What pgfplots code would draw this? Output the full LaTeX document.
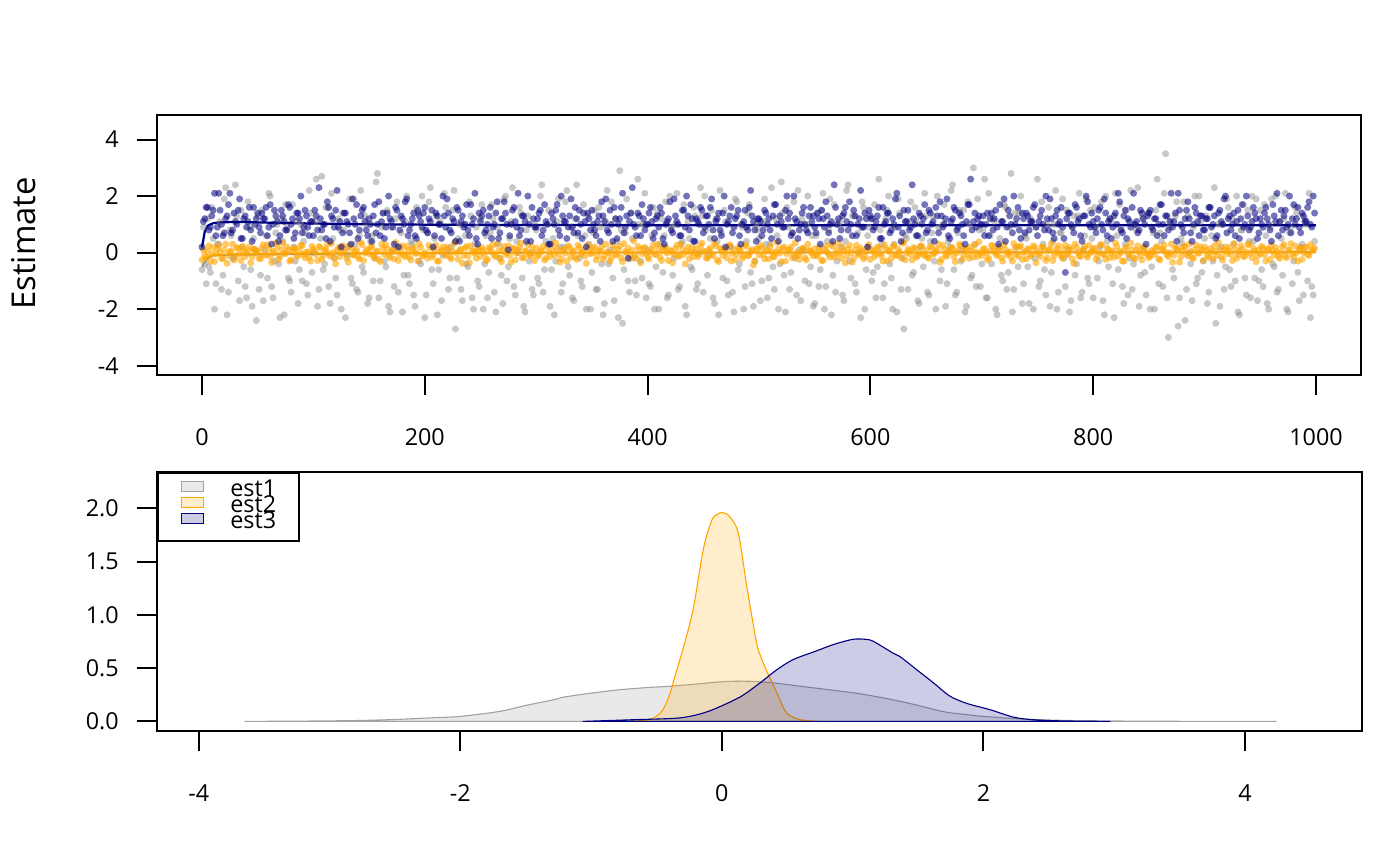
\documentclass[border=0pt]{standalone}
\usepackage{pgfplots}
\pgfplotsset{compat=1.18}
\usepackage{fontspec}
\setmainfont{Open Sans}
\definecolor{g1}{HTML}{919191}
\definecolor{orng}{HTML}{FFA500}
\definecolor{nav}{HTML}{000080}
\pgfplotsset{
  rstyle/.style={
    scale only axis,
    axis line style={black, line width=0.7pt},
    tick style={black, line width=0.7pt},
    major tick length=7.2pt,
    tick align=outside,
    xtick pos=lower, ytick pos=left,
    /pgf/number format/assume math mode=true,
    /pgf/number format/set thousands separator={},
    ticklabel style={font=\fontsize{8.4}{10}\selectfont, inner sep=0pt},
    xticklabel style={anchor=center, yshift=-15.1pt},
    yticklabel style={anchor=east, xshift=-6.4pt},
  },
  gpts/.style={only marks, mark=*, mark size=1.26pt, mark options={g1, draw opacity=0, fill opacity=0.5}},
  opts/.style={only marks, mark=*, mark size=1.26pt, mark options={orng, draw opacity=0, fill opacity=0.6}},
  npts/.style={only marks, mark=*, mark size=1.26pt, mark options={nav, draw opacity=0, fill opacity=0.55}},
}
\begin{document}
\begin{tikzpicture}
\path[use as bounding box] (0,0) rectangle (504pt,311.76pt);
% ---------------- top panel ----------------
\begin{axis}[rstyle,
  at={(56.52pt,176.76pt)}, anchor=south west,
  width=433.44pt, height=93.6pt,
  xmin=-40.4, xmax=1040.4, ymin=-4.33, ymax=4.87,
  xtick={0,200,400,600,800,1000},
  ytick={-4,-2,0,2,4},
  ylabel={Estimate},
  ylabel style={at={(axis description cs:-0.111,0.506)}, anchor=center, font=\fontsize{11.8}{13}\selectfont},
]
% est1 (gray points)
\addplot[gpts] table[header=false, row sep=\\, x expr=\coordindex*2.5, y index=0] {
-0.6\\-0.4\\1.2\\-0.7\\0.5\\-1.1\\0.3\\-1.3\\1.9\\-2.2\\0.8\\-0.2\\2.4\\-1.0\\1.5\\-0.5\\-1.6\\0.9\\-1.9\\0.1\\
1.3\\-0.8\\-1.7\\0.6\\2.1\\-1.2\\-0.3\\1.0\\-2.3\\0.4\\1.7\\-0.9\\-1.4\\0.2\\1.1\\-0.6\\-1.0\\0.7\\-1.5\\1.4\\
0.0\\2.6\\-1.3\\2.7\\-0.4\\1.6\\-1.8\\0.5\\-0.9\\1.2\\-2.0\\0.8\\-0.1\\1.9\\-1.1\\0.3\\-1.4\\2.2\\-0.7\\1.0\\
-1.6\\0.6\\-0.2\\2.8\\-1.0\\1.4\\-0.5\\-1.9\\0.9\\-1.2\\1.8\\0.2\\-2.1\\1.1\\-0.8\\0.4\\-1.5\\1.6\\-0.3\\2.0\\
-2.3\\0.7\\2.3\\-1.1\\1.3\\-0.6\\-1.7\\2.1\\0.1\\-0.9\\1.5\\-2.7\\0.5\\-1.3\\1.0\\-0.4\\1.8\\-1.6\\0.3\\-1.0\\
1.2\\-2.0\\0.6\\-0.7\\1.7\\-1.4\\0.9\\-0.2\\-1.8\\2.0\\-0.5\\1.1\\-1.2\\0.4\\1.6\\-0.9\\-2.1\\1.3\\0.0\\-1.5\\
0.8\\-1.1\\2.4\\-0.6\\1.0\\-1.9\\0.5\\-0.3\\1.9\\-1.4\\0.2\\2.2\\-0.8\\-1.6\\1.2\\0.6\\-1.0\\1.7\\-2.0\\0.3\\
-0.7\\1.5\\-1.3\\0.9\\-2.2\\1.1\\-0.4\\1.8\\-1.7\\0.4\\2.9\\-2.5\\0.7\\-1.0\\1.4\\-0.2\\-1.5\\1.0\\-0.9\\2.1\\
0.1\\-1.2\\1.6\\-0.5\\-2.0\\1.2\\0.6\\-1.6\\2.0\\-0.8\\1.0\\-1.3\\0.3\\1.7\\-2.2\\0.5\\-0.6\\1.3\\-1.1\\2.3\\
-1.4\\0.8\\-0.1\\1.5\\-1.8\\0.4\\2.2\\-0.9\\1.1\\-1.5\\0.2\\-2.1\\1.8\\-0.4\\0.9\\-1.2\\1.4\\-0.7\\-1.9\\1.0\\
0.5\\-1.0\\1.9\\-1.6\\0.3\\-0.5\\1.2\\-2.0\\2.5\\-0.8\\1.6\\-1.3\\0.7\\-0.2\\2.2\\-1.7\\0.1\\1.0\\-1.1\\0.6\\
-1.8\\1.4\\-0.6\\2.1\\-1.2\\0.8\\-2.2\\1.7\\-0.3\\1.1\\-1.5\\0.4\\2.4\\-0.9\\1.3\\-1.4\\0.0\\1.8\\-2.0\\0.6\\
1.2\\-0.7\\-1.6\\2.6\\0.3\\-1.1\\1.5\\-0.4\\-2.0\\0.9\\1.9\\-1.3\\-2.7\\0.5\\1.1\\-0.8\\1.6\\-1.7\\0.2\\-0.5\\
1.3\\-1.5\\0.7\\-0.3\\2.0\\-1.0\\1.0\\-1.9\\0.4\\2.2\\-0.6\\-1.4\\1.5\\0.1\\-2.1\\1.8\\-0.9\\3.0\\-1.2\\0.8\\
-0.4\\2.6\\-1.6\\0.6\\1.2\\-2.0\\0.2\\-0.8\\1.7\\-1.3\\0.9\\-2.1\\1.4\\-0.5\\2.0\\-1.1\\0.5\\-1.8\\1.1\\-0.2\\
2.6\\-1.0\\0.3\\-1.5\\1.6\\-0.7\\1.0\\-2.0\\0.7\\1.9\\-1.2\\0.1\\-1.7\\1.3\\-0.4\\2.1\\-1.4\\0.6\\-0.9\\1.5\\
-1.6\\0.9\\-0.3\\1.8\\-2.2\\0.4\\1.2\\-1.1\\2.1\\-0.6\\0.8\\-1.8\\1.5\\-0.2\\-1.3\\1.0\\2.3\\-0.8\\0.2\\-1.5\\
1.4\\-0.5\\-2.0\\2.6\\0.7\\-1.2\\3.5\\-3.0\\1.1\\-0.9\\1.8\\-1.6\\0.3\\-2.4\\1.3\\-0.4\\0.9\\-1.1\\2.0\\-0.7\\
0.5\\-1.8\\1.6\\-0.3\\-2.5\\1.0\\0.2\\-1.3\\1.9\\-0.6\\1.2\\-1.0\\-2.1\\0.8\\1.7\\-1.5\\0.4\\2.0\\-0.9\\-1.7\\
1.5\\-1.2\\0.6\\-2.0\\1.9\\-0.5\\-1.4\\1.1\\-0.8\\2.1\\-2.1\\0.9\\-0.3\\1.4\\-1.7\\0.3\\1.2\\-1.0\\-2.3\\-1.5\\
};
\addplot[gpts] table[header=false, row sep=\\, x expr=1.25+\coordindex*2.5, y index=0] {
0.9\\-1.1\\-0.5\\1.6\\-2.0\\0.3\\1.1\\-0.8\\2.3\\-1.4\\0.6\\-0.2\\1.3\\-1.7\\0.2\\-1.2\\1.8\\-0.6\\0.5\\-2.4\\
-1.3\\1.5\\0.1\\-0.9\\2.0\\-1.6\\0.7\\-0.4\\1.2\\-2.2\\0.9\\-1.0\\1.7\\-0.3\\-1.8\\1.0\\0.4\\-1.1\\2.2\\-0.7\\
1.1\\-1.9\\0.5\\-0.6\\1.6\\-1.2\\2.1\\-0.2\\-1.5\\0.8\\1.4\\-2.3\\0.2\\-0.9\\1.9\\-1.3\\0.6\\-0.5\\1.3\\-1.8\\
0.4\\-1.0\\2.5\\-1.6\\0.9\\-0.3\\1.5\\-2.1\\0.1\\1.2\\-1.4\\0.7\\-0.8\\2.0\\-1.1\\0.3\\-1.9\\1.4\\-0.4\\0.8\\
-1.5\\1.8\\-0.6\\0.5\\-2.2\\1.1\\-0.1\\1.6\\-1.3\\0.2\\2.2\\-0.9\\1.0\\-1.7\\0.6\\-0.5\\1.3\\-2.0\\0.9\\-1.2\\
1.7\\-0.4\\-1.6\\0.7\\1.2\\-2.1\\0.3\\-0.8\\1.9\\-1.0\\0.5\\2.3\\-1.5\\0.0\\1.4\\-1.9\\0.8\\-0.3\\-1.3\\1.0\\
-0.9\\2.0\\-1.4\\0.4\\1.5\\-0.6\\-2.2\\1.1\\0.2\\-1.1\\1.8\\-0.5\\0.9\\-1.7\\2.4\\-0.2\\-1.2\\0.6\\1.3\\-2.0\\
0.7\\-1.3\\1.6\\-0.4\\-1.8\\2.2\\0.1\\-0.9\\1.2\\-2.3\\0.8\\-0.6\\1.9\\-1.4\\0.5\\-1.0\\2.6\\-0.3\\1.0\\-1.6\\
-1.1\\0.6\\-2.0\\1.4\\0.3\\-0.7\\1.8\\-1.5\\0.9\\-0.2\\2.1\\-1.2\\0.4\\-1.9\\1.1\\-0.5\\1.6\\-1.3\\0.0\\1.3\\
2.0\\-0.8\\0.5\\-1.6\\1.2\\-2.2\\0.7\\1.5\\-1.0\\0.2\\-1.4\\1.9\\-0.6\\1.0\\-2.0\\0.4\\1.7\\-1.1\\-0.3\\0.8\\
-1.7\\1.1\\0.3\\-0.9\\2.3\\-1.3\\0.6\\-0.4\\1.4\\-2.1\\0.9\\-0.7\\1.8\\-1.5\\0.1\\1.2\\-1.0\\2.0\\-0.5\\-1.9\\
0.6\\-1.2\\1.5\\-2.0\\0.4\\1.9\\-0.8\\-1.4\\1.0\\0.2\\-1.7\\2.2\\-0.3\\1.3\\-1.1\\0.7\\-2.3\\1.6\\-0.6\\0.9\\
-1.0\\1.7\\-0.5\\0.8\\-1.6\\1.2\\2.0\\-0.9\\0.3\\-2.1\\1.4\\-0.2\\0.6\\-1.3\\1.8\\-0.7\\1.1\\-1.8\\0.5\\2.1\\
-1.4\\0.4\\1.3\\-2.0\\0.9\\-0.6\\1.7\\-1.1\\0.2\\2.4\\-1.5\\0.7\\-0.3\\1.5\\-1.9\\1.0\\-0.8\\0.3\\1.9\\-1.2\\
0.8\\-1.6\\2.1\\-0.4\\1.1\\-2.2\\0.5\\-1.0\\1.6\\-0.7\\2.8\\-1.3\\0.2\\1.4\\-1.8\\0.6\\-0.5\\1.2\\-2.0\\0.9\\
-1.2\\1.8\\-0.6\\1.0\\-1.9\\0.4\\2.2\\-1.4\\0.7\\-0.2\\1.5\\-2.1\\0.9\\-0.8\\1.3\\-1.6\\0.1\\1.9\\-1.1\\0.5\\
1.6\\-0.9\\0.2\\-1.7\\2.0\\-0.5\\1.1\\-2.3\\0.6\\1.7\\-1.2\\0.3\\-1.5\\2.2\\-0.4\\0.8\\-1.9\\1.2\\-0.7\\1.4\\
-2.0\\0.7\\1.5\\-1.1\\0.4\\2.1\\-1.6\\0.9\\-0.6\\1.3\\-2.6\\0.5\\1.8\\-1.3\\0.0\\-1.7\\2.0\\-0.9\\1.1\\-0.3\\
1.3\\-1.4\\0.6\\2.3\\-0.8\\-1.9\\1.0\\-0.5\\1.6\\-1.2\\0.3\\2.0\\-2.2\\0.8\\-0.9\\1.5\\-1.6\\0.4\\1.9\\-1.0\\
-0.6\\1.7\\-1.8\\0.9\\-0.4\\2.0\\-1.3\\0.5\\1.2\\-2.0\\0.7\\-1.1\\1.6\\-0.7\\0.2\\-1.5\\1.0\\2.1\\-1.2\\0.4\\
};
% est2 (orange points)
\addplot[opts] table[header=false, row sep=\\, x expr=\coordindex*2.5, y index=0] {
-0.25\\-0.10\\0.05\\-0.30\\0.18\\-0.05\\0.25\\-0.20\\0.10\\-0.38\\0.02\\0.30\\-0.12\\0.15\\-0.28\\0.08\\-0.02\\0.22\\-0.15\\0.12\\
0.05\\-0.22\\0.28\\-0.08\\0.14\\-0.35\\0.00\\0.20\\-0.14\\0.34\\-0.04\\0.10\\-0.26\\0.16\\-0.10\\0.06\\0.25\\-0.18\\0.02\\-0.30\\
0.12\\-0.06\\0.22\\-0.24\\0.08\\0.30\\-0.12\\0.00\\-0.40\\0.18\\-0.02\\0.14\\-0.20\\0.26\\-0.08\\0.04\\-0.16\\0.36\\-0.28\\0.10\\
-0.04\\0.20\\-0.18\\0.06\\-0.32\\0.15\\0.28\\-0.10\\0.02\\-0.22\\0.12\\-0.06\\0.24\\-0.14\\0.08\\-0.26\\0.18\\-0.02\\0.32\\-0.12\\
0.00\\-0.20\\0.16\\-0.08\\0.26\\-0.30\\0.10\\-0.04\\0.20\\-0.16\\0.04\\0.38\\-0.24\\0.12\\-0.10\\0.22\\-0.36\\0.06\\-0.02\\0.14\\
-0.14\\0.08\\-0.28\\0.18\\0.02\\-0.10\\0.30\\-0.20\\0.10\\-0.06\\0.24\\-0.34\\0.14\\-0.02\\0.20\\-0.18\\0.06\\0.28\\-0.12\\0.00\\
0.16\\-0.08\\0.04\\-0.26\\0.22\\-0.14\\0.10\\0.34\\-0.04\\-0.22\\0.12\\-0.30\\0.18\\0.02\\-0.16\\0.26\\-0.06\\0.08\\-0.38\\0.14\\
-0.02\\0.20\\-0.12\\0.06\\-0.24\\0.30\\0.00\\-0.18\\0.12\\-0.08\\0.24\\-0.32\\0.04\\0.16\\-0.10\\0.42\\-0.20\\0.10\\-0.04\\0.18\\
-0.16\\0.02\\0.26\\-0.08\\0.12\\-0.28\\0.20\\-0.02\\0.08\\-0.36\\0.14\\-0.12\\0.30\\-0.06\\0.04\\-0.22\\0.18\\0.00\\-0.14\\0.24\\
0.06\\-0.18\\0.10\\-0.04\\0.32\\-0.26\\0.16\\-0.10\\0.02\\0.22\\-0.30\\0.08\\-0.06\\0.14\\-0.20\\0.28\\-0.12\\0.04\\-0.44\\0.12\\
-0.08\\0.18\\-0.22\\0.06\\0.24\\-0.14\\0.00\\0.12\\-0.32\\0.20\\-0.04\\0.10\\-0.18\\0.34\\-0.10\\0.02\\0.16\\-0.26\\0.08\\-0.02\\
0.14\\-0.12\\0.04\\-0.28\\0.22\\-0.06\\0.30\\-0.16\\0.08\\-0.02\\0.18\\-0.36\\0.12\\0.00\\-0.20\\0.26\\-0.08\\0.06\\-0.14\\0.20\\
-0.24\\0.10\\-0.04\\0.16\\-0.12\\0.28\\-0.30\\0.02\\0.20\\-0.08\\0.12\\-0.18\\0.36\\-0.02\\0.06\\-0.26\\0.14\\-0.10\\0.24\\-0.06\\
0.08\\-0.20\\0.18\\-0.02\\0.12\\-0.34\\0.26\\-0.10\\0.04\\0.16\\-0.14\\0.00\\0.30\\-0.24\\0.10\\-0.06\\0.20\\-0.16\\0.02\\0.38\\
-0.10\\0.14\\-0.26\\0.06\\0.22\\-0.04\\0.10\\-0.18\\0.28\\-0.08\\0.02\\-0.30\\0.16\\-0.12\\0.24\\0.00\\-0.22\\0.12\\-0.06\\0.18\\
0.04\\-0.14\\0.20\\-0.28\\0.08\\0.32\\-0.10\\0.14\\-0.02\\-0.20\\0.26\\-0.06\\0.10\\-0.38\\0.18\\-0.12\\0.06\\0.22\\-0.16\\0.00\\
0.12\\-0.24\\0.02\\0.28\\-0.08\\0.16\\-0.18\\0.06\\0.34\\-0.12\\0.00\\-0.30\\0.20\\-0.04\\0.10\\-0.22\\0.24\\-0.10\\0.14\\-0.02\\
-0.18\\0.08\\-0.06\\0.22\\-0.26\\0.12\\0.02\\-0.14\\0.30\\-0.08\\0.16\\-0.34\\0.06\\0.20\\-0.12\\0.04\\-0.20\\0.26\\-0.02\\0.10\\
0.20\\-0.10\\0.14\\-0.22\\0.04\\0.36\\-0.16\\0.08\\-0.04\\0.18\\-0.28\\0.10\\-0.08\\0.24\\-0.14\\0.02\\0.30\\-0.18\\0.06\\-0.12\\
-0.04\\0.16\\-0.30\\0.10\\0.26\\-0.08\\0.04\\-0.20\\0.22\\-0.12\\0.08\\0.32\\-0.16\\0.00\\0.14\\-0.24\\0.18\\-0.06\\0.28\\0.10\\
};
\addplot[opts] table[header=false, row sep=\\, x expr=1.25+\coordindex*2.5, y index=0] {
0.10\\-0.18\\0.24\\-0.06\\-0.32\\0.14\\0.02\\-0.22\\0.30\\-0.10\\0.06\\-0.26\\0.18\\-0.04\\0.22\\-0.14\\0.08\\-0.36\\0.12\\0.00\\
-0.20\\0.16\\-0.08\\0.28\\-0.14\\0.04\\0.34\\-0.24\\0.10\\-0.02\\0.20\\-0.30\\0.06\\0.14\\-0.12\\0.26\\-0.06\\0.02\\-0.18\\0.22\\
0.04\\-0.28\\0.18\\-0.10\\0.12\\-0.04\\0.32\\-0.20\\0.08\\-0.14\\0.24\\0.00\\-0.34\\0.16\\-0.08\\0.10\\-0.22\\0.28\\-0.02\\0.06\\
0.20\\-0.12\\0.02\\-0.24\\0.30\\-0.06\\0.14\\-0.18\\0.08\\0.36\\-0.28\\0.04\\-0.10\\0.22\\-0.16\\0.12\\-0.02\\-0.30\\0.18\\-0.08\\
-0.06\\0.26\\-0.16\\0.10\\-0.30\\0.04\\0.20\\-0.10\\0.14\\-0.22\\0.32\\-0.02\\0.08\\-0.38\\0.16\\-0.12\\0.24\\0.02\\-0.20\\0.10\\
0.18\\-0.04\\-0.24\\0.12\\0.28\\-0.14\\0.06\\-0.32\\0.22\\0.00\\-0.10\\0.16\\-0.26\\0.08\\0.34\\-0.18\\0.04\\-0.06\\0.20\\-0.28\\
-0.12\\0.08\\0.22\\-0.20\\0.02\\0.30\\-0.08\\0.14\\-0.34\\0.10\\-0.02\\0.24\\-0.16\\0.06\\-0.24\\0.18\\0.00\\-0.12\\0.28\\-0.04\\
0.14\\-0.26\\0.06\\0.20\\-0.12\\0.02\\-0.30\\0.26\\-0.06\\0.12\\-0.18\\0.32\\0.00\\-0.22\\0.08\\-0.10\\0.22\\-0.36\\0.16\\-0.02\\
-0.22\\0.12\\-0.04\\0.30\\-0.16\\0.08\\0.18\\-0.28\\0.04\\-0.08\\0.26\\-0.12\\0.10\\-0.40\\0.20\\0.00\\-0.14\\0.14\\-0.06\\0.34\\
0.02\\-0.20\\0.16\\-0.10\\0.24\\-0.32\\0.08\\0.12\\-0.18\\0.28\\-0.04\\-0.26\\0.18\\0.04\\-0.12\\0.22\\-0.08\\0.10\\-0.30\\0.14\\
0.26\\-0.06\\0.10\\-0.22\\0.04\\-0.14\\0.36\\-0.02\\0.16\\-0.30\\0.08\\0.20\\-0.10\\0.00\\-0.24\\0.14\\-0.18\\0.30\\0.06\\-0.12\\
-0.08\\0.18\\-0.28\\0.12\\0.02\\-0.16\\0.22\\-0.04\\0.32\\-0.20\\0.06\\-0.12\\0.26\\-0.34\\0.10\\-0.02\\0.16\\-0.22\\0.04\\0.28\\
0.06\\-0.14\\0.20\\-0.02\\-0.30\\0.14\\0.08\\-0.20\\0.26\\-0.10\\0.02\\0.34\\-0.26\\0.12\\-0.06\\0.18\\-0.16\\0.00\\0.22\\-0.10\\
-0.16\\0.22\\-0.06\\0.04\\0.30\\-0.24\\0.12\\-0.12\\0.02\\0.18\\-0.32\\0.08\\0.24\\-0.08\\0.14\\-0.20\\0.06\\0.28\\-0.14\\0.00\\
0.12\\-0.02\\-0.20\\0.26\\0.06\\-0.10\\0.18\\-0.30\\0.10\\0.00\\-0.16\\0.32\\-0.06\\0.20\\-0.24\\0.04\\0.14\\-0.12\\0.24\\-0.36\\
-0.04\\0.20\\0.08\\-0.18\\0.14\\-0.28\\0.02\\0.24\\-0.12\\0.10\\-0.06\\0.18\\-0.22\\0.30\\0.00\\-0.14\\0.12\\-0.08\\0.26\\0.04\\
0.16\\-0.10\\0.28\\-0.04\\-0.24\\0.10\\0.00\\-0.16\\0.22\\0.06\\-0.30\\0.14\\-0.08\\0.34\\-0.18\\0.08\\0.02\\-0.26\\0.18\\-0.06\\
-0.12\\0.04\\0.18\\-0.22\\0.12\\0.26\\-0.08\\0.00\\-0.34\\0.16\\0.08\\-0.14\\0.22\\-0.04\\0.30\\-0.18\\0.10\\-0.02\\0.20\\-0.28\\
0.08\\-0.16\\0.02\\0.24\\-0.10\\0.14\\-0.26\\0.20\\0.06\\-0.06\\0.32\\-0.20\\0.04\\0.12\\-0.12\\0.28\\-0.02\\0.16\\-0.32\\0.10\\
0.22\\-0.08\\0.12\\-0.24\\0.06\\0.18\\-0.14\\0.02\\0.28\\-0.18\\0.10\\-0.04\\0.24\\-0.30\\0.14\\0.00\\0.20\\-0.10\\0.08\\0.16\\
};
% est3 (navy points)
\addplot[npts] table[header=false, row sep=\\, x expr=\coordindex*2.5, y index=0] {
0.2\\1.2\\1.6\\0.9\\1.5\\0.6\\2.1\\1.0\\0.7\\1.3\\2.1\\0.8\\1.1\\1.5\\0.5\\1.2\\0.9\\1.6\\0.4\\1.0\\
1.4\\0.7\\1.2\\1.6\\0.9\\0.3\\1.5\\1.1\\0.6\\1.3\\0.8\\1.7\\1.0\\0.5\\1.4\\1.2\\0.7\\1.5\\0.9\\1.1\\
0.6\\1.3\\2.3\\0.8\\1.0\\1.8\\0.4\\1.2\\1.5\\0.9\\0.2\\1.4\\1.1\\0.7\\1.9\\1.0\\0.5\\1.3\\1.6\\0.8\\
1.2\\0.4\\1.7\\1.0\\0.6\\1.4\\0.9\\2.0\\1.1\\0.3\\1.5\\0.8\\1.2\\1.8\\0.6\\1.0\\1.4\\0.5\\1.3\\0.9\\
1.6\\0.7\\1.1\\0.2\\1.4\\1.0\\0.5\\1.3\\1.9\\0.8\\1.2\\0.4\\1.5\\1.1\\0.9\\1.7\\0.6\\1.0\\2.1\\0.3\\
1.1\\1.5\\0.8\\1.3\\0.5\\1.0\\1.8\\0.7\\1.2\\1.4\\0.1\\1.0\\1.6\\0.9\\0.6\\1.3\\1.1\\2.0\\0.4\\1.2\\
0.9\\1.4\\0.6\\1.7\\1.0\\0.3\\1.2\\1.5\\0.8\\2.0\\1.1\\0.5\\1.3\\0.9\\1.6\\0.7\\1.0\\1.4\\0.2\\1.2\\
1.5\\0.8\\1.1\\0.4\\1.3\\1.9\\0.7\\1.0\\1.6\\0.5\\1.2\\2.1\\0.9\\-0.2\\1.4\\1.0\\0.6\\1.3\\1.7\\0.8\\
1.0\\1.6\\0.5\\1.2\\0.9\\1.4\\0.3\\1.1\\1.8\\0.7\\1.3\\1.0\\0.6\\1.5\\2.0\\0.8\\1.2\\0.4\\1.1\\1.6\\
0.7\\1.3\\1.0\\1.9\\0.5\\1.2\\0.8\\1.4\\0.2\\1.1\\1.6\\0.9\\1.3\\0.6\\1.0\\1.5\\0.8\\2.2\\1.1\\0.4\\
1.2\\0.6\\1.5\\1.0\\0.8\\1.3\\1.7\\0.4\\1.1\\0.9\\2.0\\1.4\\0.7\\1.2\\0.5\\1.0\\1.6\\0.8\\1.3\\1.1\\
0.9\\1.4\\0.3\\1.2\\1.8\\0.7\\1.1\\2.4\\1.0\\0.5\\1.3\\1.6\\0.8\\1.0\\1.5\\0.6\\1.2\\0.9\\1.4\\0.2\\
1.3\\0.8\\1.1\\1.6\\0.5\\1.0\\1.4\\0.7\\1.2\\1.9\\0.9\\0.4\\1.5\\1.1\\0.8\\2.4\\1.0\\0.6\\1.3\\1.2\\
0.7\\1.5\\1.0\\0.4\\1.3\\1.8\\0.9\\1.2\\0.6\\1.1\\1.6\\0.8\\1.4\\1.0\\0.3\\1.7\\2.6\\1.1\\0.9\\1.3\\
1.0\\0.6\\1.4\\1.2\\0.8\\1.5\\0.3\\1.1\\1.9\\0.9\\1.3\\0.7\\1.0\\1.6\\0.5\\1.2\\1.4\\0.8\\1.1\\1.7\\
0.6\\1.3\\1.0\\2.0\\0.8\\1.2\\0.5\\1.5\\1.1\\0.9\\-0.7\\1.4\\1.0\\0.7\\1.6\\1.2\\0.4\\1.3\\1.8\\0.9\\
1.1\\0.7\\1.5\\1.0\\1.9\\0.6\\1.2\\0.9\\1.4\\2.1\\0.8\\1.3\\0.5\\1.1\\1.6\\1.0\\0.7\\1.5\\1.2\\0.3\\
1.4\\0.9\\1.2\\0.6\\1.7\\1.0\\1.3\\0.8\\2.1\\1.1\\0.4\\1.5\\0.9\\1.2\\1.8\\0.7\\1.0\\1.4\\0.6\\1.3\\
0.8\\1.2\\1.6\\1.0\\0.5\\1.4\\1.1\\1.9\\0.7\\1.3\\1.0\\0.6\\1.5\\1.2\\0.9\\2.0\\0.8\\1.1\\1.4\\0.5\\
1.2\\0.9\\1.6\\1.0\\0.4\\1.3\\2.1\\1.1\\0.8\\1.5\\1.0\\0.7\\1.7\\1.2\\0.9\\1.4\\1.1\\1.6\\1.0\\2.0\\
};
\addplot[npts] table[header=false, row sep=\\, x expr=1.25+\coordindex*2.5, y index=0] {
1.1\\1.6\\0.8\\1.3\\2.1\\0.9\\1.5\\0.6\\1.2\\1.7\\0.7\\1.4\\1.0\\1.9\\0.5\\1.3\\1.1\\0.8\\1.6\\1.2\\
0.9\\1.4\\1.2\\0.6\\1.7\\1.0\\1.3\\0.4\\1.5\\1.1\\0.8\\1.6\\1.2\\0.7\\1.4\\2.0\\0.9\\1.3\\0.6\\1.1\\
1.5\\0.8\\1.2\\1.0\\0.5\\1.6\\1.3\\0.9\\2.2\\1.1\\0.7\\1.4\\1.0\\0.3\\1.2\\1.7\\0.8\\1.5\\1.1\\0.6\\
1.0\\1.3\\0.7\\1.8\\1.1\\0.5\\1.4\\1.2\\0.9\\1.6\\0.2\\1.3\\1.0\\1.9\\0.8\\1.2\\0.6\\1.5\\1.1\\1.4\\
0.8\\1.2\\1.5\\0.6\\1.3\\1.0\\2.0\\0.9\\1.4\\0.7\\1.1\\1.6\\0.4\\1.3\\1.0\\0.8\\1.7\\1.2\\0.5\\1.4\\
1.3\\0.7\\1.0\\1.6\\0.9\\1.4\\0.5\\1.2\\1.8\\1.0\\0.6\\1.5\\1.1\\2.1\\0.8\\1.3\\0.4\\1.0\\1.6\\0.9\\
1.2\\1.5\\0.8\\1.1\\0.3\\1.4\\1.0\\1.7\\0.6\\1.3\\1.1\\0.9\\1.9\\0.7\\1.2\\1.5\\0.5\\1.1\\1.4\\0.8\\
1.0\\0.6\\1.3\\1.8\\1.1\\0.8\\1.5\\0.4\\1.2\\1.0\\1.6\\0.7\\1.3\\1.1\\2.3\\0.9\\1.4\\0.6\\1.2\\1.0\\
1.4\\1.1\\0.7\\1.3\\1.6\\0.5\\1.0\\1.2\\0.8\\1.9\\1.1\\0.6\\1.5\\0.9\\1.3\\1.7\\0.4\\1.2\\1.0\\1.5\\
0.9\\1.3\\1.6\\0.8\\1.1\\1.4\\0.6\\2.0\\1.0\\1.3\\0.7\\1.2\\1.5\\0.3\\1.1\\0.9\\1.6\\1.3\\0.8\\1.2\\
1.1\\0.8\\1.4\\1.2\\0.5\\1.7\\1.0\\1.3\\0.9\\1.5\\1.2\\0.6\\2.0\\1.1\\0.8\\1.4\\1.0\\0.7\\1.6\\1.3\\
0.7\\1.2\\1.5\\0.9\\1.3\\1.0\\0.4\\1.6\\1.2\\0.8\\1.4\\1.1\\1.8\\0.6\\1.3\\1.0\\2.2\\0.9\\1.2\\1.5\\
1.2\\0.9\\1.3\\0.5\\1.6\\1.1\\1.4\\0.8\\1.0\\2.1\\1.3\\0.7\\1.1\\1.5\\0.9\\1.2\\0.6\\1.4\\1.0\\1.7\\
0.8\\1.4\\1.1\\1.6\\0.7\\1.3\\1.0\\1.9\\0.5\\1.2\\1.5\\0.9\\1.3\\0.6\\1.1\\1.7\\0.8\\1.4\\1.2\\1.0\\
1.3\\1.0\\0.6\\1.4\\1.2\\0.9\\1.7\\1.1\\0.4\\1.5\\1.0\\2.0\\1.2\\0.8\\1.4\\0.7\\1.3\\1.1\\1.6\\0.9\\
1.1\\1.5\\0.8\\1.2\\1.9\\0.7\\1.3\\1.0\\1.6\\0.5\\1.2\\1.4\\0.9\\1.7\\1.1\\0.6\\1.3\\2.0\\1.0\\1.4\\
0.9\\1.2\\1.6\\0.8\\1.4\\1.1\\0.5\\1.3\\1.0\\1.8\\0.7\\1.5\\1.2\\0.9\\2.1\\1.1\\0.8\\1.4\\1.0\\1.3\\
1.5\\0.8\\1.2\\1.0\\1.7\\0.6\\1.3\\1.1\\0.9\\1.4\\2.1\\1.0\\0.7\\1.5\\1.2\\0.4\\1.6\\1.1\\1.3\\0.8\\
1.2\\1.6\\0.9\\1.3\\0.6\\1.5\\1.0\\2.0\\1.2\\0.8\\1.4\\1.1\\0.5\\1.7\\1.0\\1.3\\0.9\\1.6\\1.2\\0.7\\
1.0\\1.4\\1.2\\0.8\\1.7\\1.1\\0.6\\1.5\\1.3\\0.9\\2.0\\1.2\\1.0\\1.6\\0.7\\1.3\\1.1\\1.8\\0.9\\1.4\\
};
% running means
\addplot[g1, line width=0.6pt] coordinates {(0,-0.5) (5,-0.2) (10,-0.1) (30,-0.08) (100,-0.05) (300,0) (1000,0.02)};
\addplot[orng, line width=0.6pt] coordinates {(0,-0.25) (5,-0.15) (10,-0.08) (30,-0.05) (100,-0.02) (300,0) (1000,0)};
\addplot[nav, line width=0.8pt] coordinates {(0,0.18) (2.5,0.75) (5,0.95) (7.5,1.0) (10,1.04) (15,1.07) (25,1.08) (40,1.08) (60,1.06) (100,1.03) (150,1.0) (250,0.98) (400,0.97) (600,0.97) (800,0.97) (1000,0.97)};
\end{axis}
% ---------------- bottom panel ----------------
\begin{axis}[rstyle,
  at={(56.52pt,48.6pt)}, anchor=south west,
  width=433.8pt, height=93.24pt,
  xmin=-4.32, xmax=4.895, ymin=-0.09, ymax=2.34,
  xtick={-4,-2,0,2,4},
  ytick={0,0.5,1,1.5,2},
  yticklabel style={/pgf/number format/.cd, fixed, fixed zerofill, precision=1},
  legend style={at={(axis description cs:0,1)}, anchor=north west, draw=black, line width=0.6pt,
    inner xsep=8.3pt, inner ysep=2.9pt, row sep=-1.44pt, column sep=9.4pt,
    font=\fontsize{8.4}{8.4}\selectfont,
    nodes={inner sep=0pt, text height=4.6pt, text depth=1.52pt}},
  legend cell align=left,
  legend image code/.code={\draw[#1, line width=0.5pt] (0pt,0.3pt) rectangle (7.9pt,3.9pt);},
]
\addplot[draw=g1!85!white, fill=g1, fill opacity=0.2, line width=0.4pt, smooth, tension=0.5] coordinates {
(-3.65,0) (-3.2,0.003) (-2.8,0.008) (-2.5,0.018) (-2.2,0.035) (-2.0,0.047) (-1.7,0.094) (-1.5,0.15)
(-1.3,0.20) (-1.2,0.23) (-1.0,0.265) (-0.8,0.295) (-0.6,0.315) (-0.4,0.33) (-0.2,0.35) (0.0,0.372)
(0.2,0.377) (0.4,0.36) (0.6,0.33) (0.8,0.30) (1.0,0.27) (1.1,0.25) (1.3,0.205) (1.5,0.15) (1.7,0.09)
(1.9,0.06) (2.0,0.047) (2.3,0.022) (2.6,0.01) (3.0,0.004) (3.5,0.001) (4.24,0)} \closedcycle;
\addlegendentry{est1}
\addplot[draw=orng, fill=orng, fill opacity=0.2, line width=0.4pt, smooth, tension=0.5] coordinates {
(-0.70,0) (-0.56,0.016) (-0.50,0.05) (-0.45,0.11) (-0.40,0.25) (-0.36,0.42) (-0.30,0.67) (-0.22,1.05) (-0.143,1.61)
(-0.08,1.88) (-0.04,1.94) (0,1.96) (0.03,1.95) (0.06,1.92) (0.125,1.77) (0.19,1.27) (0.265,0.74) (0.30,0.60)
(0.34,0.48) (0.42,0.27) (0.495,0.08) (0.60,0.016) (0.76,0)} \closedcycle;
\addlegendentry{est2}
\addplot[draw=nav, fill=nav, fill opacity=0.2, line width=0.4pt, smooth, tension=0.5] coordinates {
(-1.065,0) (-0.70,0.015) (-0.35,0.03) (-0.2,0.06) (-0.07,0.11) (0.14,0.23) (0.29,0.36) (0.42,0.485)
(0.545,0.58) (0.72,0.66) (0.85,0.72) (1.0,0.77) (1.1,0.77) (1.16,0.75) (1.31,0.64) (1.36,0.61)
(1.49,0.485) (1.62,0.36) (1.74,0.24) (1.87,0.17) (2.05,0.11) (2.23,0.04) (2.38,0.016) (2.6,0.005) (2.97,0)} \closedcycle;
\addlegendentry{est3}
\end{axis}
\end{tikzpicture}
\end{document}
